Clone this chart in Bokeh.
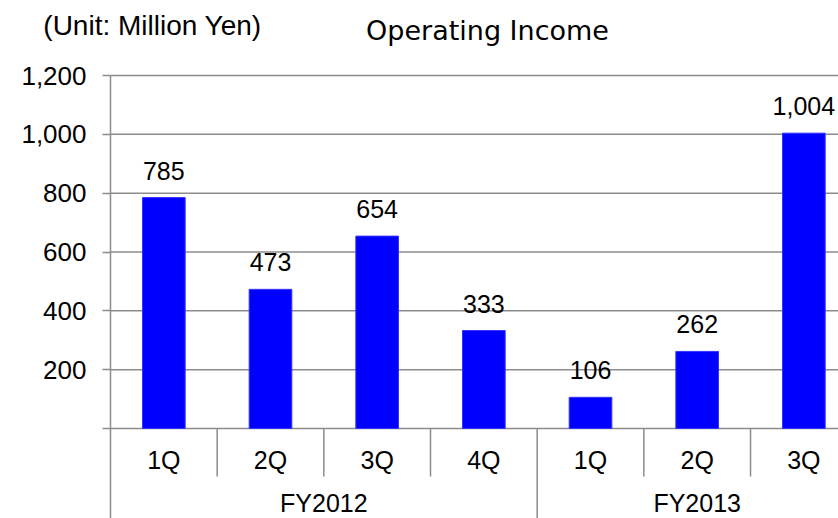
from bokeh.plotting import figure
from bokeh.models import (Range1d, FixedTicker, NumeralTickFormatter,
                          ColumnDataSource, LabelSet, LinearAxis)
from bokeh.core.properties import value
from bokeh.embed import file_html
from bokeh.resources import INLINE

# ---- data ----
fiscal_years = ["FY2012", "FY2013"]
quarters_per_year = [["1Q", "2Q", "3Q", "4Q"], ["1Q", "2Q", "3Q"]]
operating_income = [785, 473, 654, 333, 106, 262, 1004]
y_ticks = [0, 200, 400, 600, 800, 1000, 1200]
title_text = "Operating Income"
unit_text = "(Unit: Million Yen)"

# ---- derived ----
quarters = [q for qs in quarters_per_year for q in qs]
x_centers = [i + 0.5 for i in range(len(quarters))]
labels = [f"{v:,}" for v in operating_income]
group_starts = []
s = 0
for qs in quarters_per_year:
    group_starts.append(s)
    s += len(qs)
group_centers = [st + len(qs) / 2 for st, qs in zip(group_starts, quarters_per_year)]

# ---- layout constants (pixels) ----
W, H = 838, 518
AXIS_X = 110          # page x of the value axis
ZERO_Y = 428          # page y of value 0
TOP_Y = 75            # page y of value 1200
CAT_PX = 106.67       # width of one category
KY = (ZERO_Y - TOP_Y) / max(y_ticks)   # px per unit

X_START = -AXIS_X / CAT_PX
X_END = (W - AXIS_X) / CAT_PX
Y_MIN = -(H - ZERO_Y) / KY
Y_MAX = ZERO_Y / KY

GREY = "#8c8c8c"
FONT = "Liberation Sans"
QUARTER_SEP_END = -163
QUARTER_LABEL_Y = -106
GROUP_LABEL_Y = -(502 - ZERO_Y) / KY

p = figure(width=W, height=H, title=None,
           x_range=Range1d(X_START, X_END), y_range=Range1d(Y_MIN, Y_MAX),
           output_backend="svg", toolbar_location=None,
           x_axis_location=None, y_axis_location=None,
           min_border_left=0, min_border_top=0,
           min_border_right=0, min_border_bottom=0)
p.outline_line_color = None
p.grid.visible = False

# horizontal grid lines (incl. baseline)
p.segment(x0=[0] * len(y_ticks), y0=y_ticks, x1=[X_END] * len(y_ticks), y1=y_ticks,
          line_color=GREY, line_width=1.5)

# bars
src = ColumnDataSource(dict(x=x_centers, top=operating_income, label=labels))
p.vbar(x="x", top="top", bottom=0, width=0.4, source=src,
       fill_color="#0000ff", line_color="#3333ff", line_width=1)

# value axis
ax = LinearAxis(fixed_location=0, bounds=(Y_MIN, max(y_ticks)))
ax.ticker = FixedTicker(ticks=y_ticks)
ax.formatter = NumeralTickFormatter(format="0,0")
ax.major_label_overrides = {0: ""}
ax.axis_line_color = GREY
ax.axis_line_width = 1.5
ax.major_tick_line_color = GREY
ax.major_tick_line_width = 1.5
ax.major_tick_out = 8
ax.major_tick_in = 0
ax.minor_tick_line_color = None
ax.major_label_standoff = 16
ax.major_label_text_font = FONT
ax.major_label_text_font_size = "26px"
ax.major_label_text_color = "black"
p.add_layout(ax, "left")

# category separators
sep_x, sep_y1 = [], []
for i in range(1, len(quarters)):
    sep_x.append(i)
    sep_y1.append(Y_MIN if i in group_starts else QUARTER_SEP_END)
p.segment(x0=sep_x, y0=[0] * len(sep_x), x1=sep_x, y1=sep_y1,
          line_color=GREY, line_width=1.5)

# category labels
p.text(x=x_centers, y=[QUARTER_LABEL_Y] * len(quarters), text=quarters,
       text_align="center", text_baseline="middle",
       text_font=value(FONT), text_font_size="25px", text_color="black")
p.text(x=group_centers, y=[GROUP_LABEL_Y] * len(fiscal_years), text=fiscal_years,
       text_align="center", text_baseline="middle",
       text_font=value(FONT), text_font_size="25px", text_color="black")

# value labels
p.add_layout(LabelSet(x="x", y="top", text="label", source=src, y_offset=18,
                      text_align="center", text_baseline="alphabetic",
                      text_font=value(FONT), text_font_size="25px",
                      text_color="black"))

# header texts
p.text(x=[(152 - AXIS_X) / CAT_PX], y=[(ZERO_Y - 25) / KY], text=[unit_text],
       text_align="center", text_baseline="middle", text_font=value(FONT),
       text_font_size="28px", text_color="black")
p.text(x=[(487 - AXIS_X) / CAT_PX], y=[(ZERO_Y - 30) / KY], text=[title_text],
       text_align="center", text_baseline="middle",
       text_font=value("DejaVu Sans"), text_font_size="27px", text_color="black")

open("out.html", "w").write(file_html(p, INLINE))
